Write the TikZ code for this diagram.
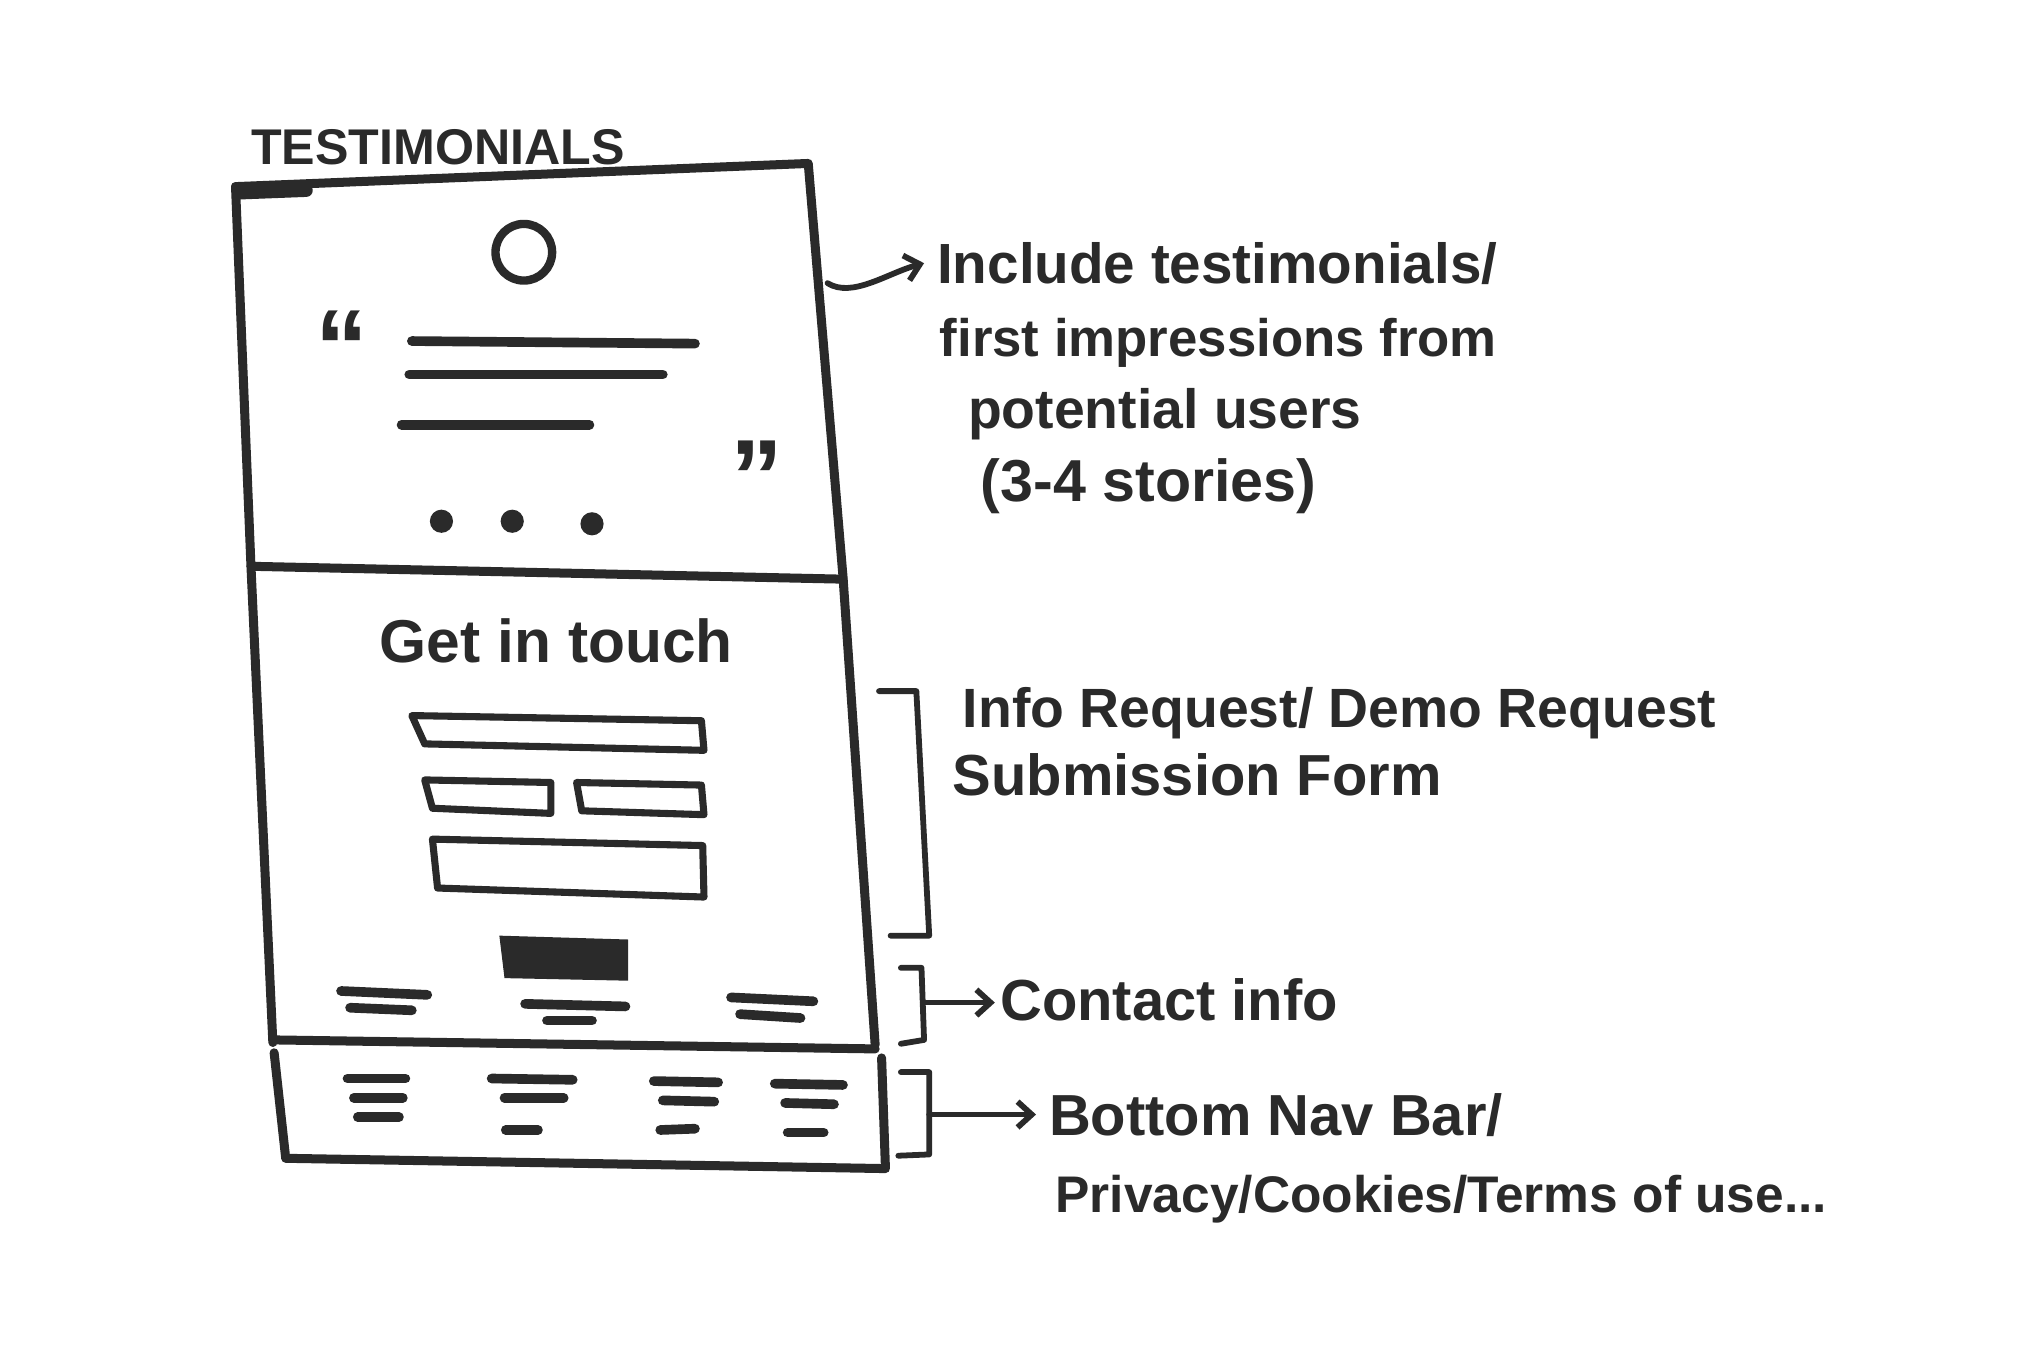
\documentclass[tikz,border=0pt]{standalone}
\usepackage{fontspec}
\setmainfont{Liberation Sans}
\usetikzlibrary{arrows.meta,calc}
\definecolor{ink}{HTML}{2A2A2A}
\begin{document}
\begin{tikzpicture}[x=1pt,y=-1pt, line cap=round, line join=round,
  frame/.style={draw=ink,line width=7pt},
  bar/.style={draw=ink,line width=7.5pt},
  field/.style={draw=ink,line width=5.5pt},
  brk/.style={draw=ink,line width=4.5pt},
  quote/.style={text=ink, inner sep=0pt, font=\fontsize{82}{82}\selectfont\bfseries},
  txt/.style={text=ink, inner sep=0pt, anchor=base west, font=\fontsize{44}{48}\selectfont\bfseries},
  arr/.style={draw=ink,line width=4.5pt,-{Straight Barb[length=11pt,width=20pt,line width=4.5pt]}}
]
\useasboundingbox (0,0) rectangle (1568,1049);
\fill[white] (0,0) rectangle (1568,1049);

% ---------- page frame ----------
\draw[frame] (183,145) -- (628,127) -- (655,448) -- (680,812);
\draw[frame] (183,145) -- (195,440) -- (212,810);
\draw[line width=10pt,ink] (186,150) -- (238,148);
\draw[frame] (195,440) -- (655,450);
\draw[frame] (212,808) -- (680,815);
% footer
\draw[frame] (213,818) -- (222,900) -- (688,908) -- (685,822);

% ---------- testimonials section ----------
\node[txt, font=\fontsize{39}{42}\selectfont\bfseries] (title) at (195,128) {TESTIMONIALS};
\draw[ink,line width=6.5pt] (407,196) circle (22);
\node[quote] (oq) at (266,270) {“};
\node[quote] (cq) at (588,371) {”};
\draw[bar] (320,265) -- (540,267);
\draw[bar] (318,291) -- (515,291);
\draw[bar] (312,330) -- (458,330);
\fill[ink] (343,405) circle (9);
\fill[ink] (398,405) circle (9);
\fill[ink] (460,407) circle (9);

% ---------- get in touch section ----------
\node[txt, font=\fontsize{47}{50}\selectfont\bfseries] (git) at (295,515) {Get in touch};
\draw[field] (320,556) -- (545,560) -- (547,583) -- (330,578) -- cycle;
\draw[field] (330,606) -- (428,608) -- (428,632) -- (336,628) -- cycle;
\draw[field] (448,608) -- (545,610) -- (547,633) -- (452,630) -- cycle;
\draw[field] (336,652) -- (546,657) -- (547,697) -- (340,690) -- cycle;
\fill[ink] (388,727) -- (488,730) -- (488,762) -- (392,760) -- cycle;
% contact lines
\draw[bar] (265,770) -- (332,773);
\draw[bar] (272,783) -- (320,785);
\draw[bar] (408,780) -- (486,782);
\draw[bar] (425,793) -- (460,793);
\draw[bar] (568,775) -- (632,778);
\draw[bar] (575,788) -- (622,791);

% ---------- footer lines ----------
\draw[bar] (270,838) -- (315,838);
\draw[bar] (275,853) -- (313,853);
\draw[bar] (278,868) -- (310,868);
\draw[bar] (382,838) -- (445,839);
\draw[bar] (392,853) -- (438,853);
\draw[bar] (393,878) -- (418,878);
\draw[bar] (508,840) -- (558,841);
\draw[bar] (515,855) -- (555,856);
\draw[bar] (513,878) -- (540,877);
\draw[bar] (602,842) -- (655,843);
\draw[bar] (610,857) -- (648,858);
\draw[bar] (612,880) -- (640,880);

% ---------- annotations ----------
\node[txt, font=\fontsize{44}{48}\selectfont\bfseries] (t1) at (728,220) {Include testimonials/};
\node[txt, font=\fontsize{41}{44}\selectfont\bfseries] (t2) at (730,277) {first impressions from};
\node[txt, font=\fontsize{43}{46}\selectfont\bfseries] (t3) at (752,333) {potential users};
\node[txt, font=\fontsize{46}{48}\selectfont\bfseries] (t4) at (762,390) {(3-4 stories)};

\node[txt, font=\fontsize{43}{46}\selectfont\bfseries] (f1) at (748,565) {Info Request/ Demo Request};
\node[txt, font=\fontsize{45}{48}\selectfont\bfseries] (f2) at (740,618) {Submission Form};

\node[txt, font=\fontsize{45}{48}\selectfont\bfseries] (c1) at (777,793) {Contact info};

\node[txt, font=\fontsize{45}{48}\selectfont\bfseries] (b1) at (815,882) {Bottom Nav Bar/};
\node[txt, font=\fontsize{40}{44}\selectfont\bfseries] (b2) at (820,942) {Privacy/Cookies/Terms of use...};

% arrow for testimonials
\coordinate (s1) at (643,220);
\draw[arr] (s1) .. controls (662,232) and (690,212) .. ([xshift=-10pt]t1.west);

% bracket for form
\coordinate (fb1) at (683,537);
\coordinate (fb2) at (712,537);
\coordinate (fb3) at (722,727);
\coordinate (fb4) at (692,727);
\draw[brk] (fb1) -- (fb2) -- (fb3) -- (fb4);

% bracket + arrow for contact info
\coordinate (cb1) at (700,752);
\coordinate (cb2) at (716,752);
\coordinate (cb3) at (718,808);
\coordinate (cb4) at (700,811);
\coordinate (cm) at (717,779);
\draw[brk] (cb1) -- (cb2) -- (cb3) -- (cb4);
\draw[arr] (cm) -- ([xshift=-4pt]c1.west |- cm);

% bracket + arrow for footer
\coordinate (bb1) at (700,833);
\coordinate (bb2) at (722,833);
\coordinate (bb3) at (722,897);
\coordinate (bb4) at (698,898);
\coordinate (bm) at (722,866);
\draw[brk] (bb1) -- (bb2) -- (bb3) -- (bb4);
\draw[arr] (bm) -- ([xshift=-10pt]b1.west |- bm);
\end{tikzpicture}
\end{document}
